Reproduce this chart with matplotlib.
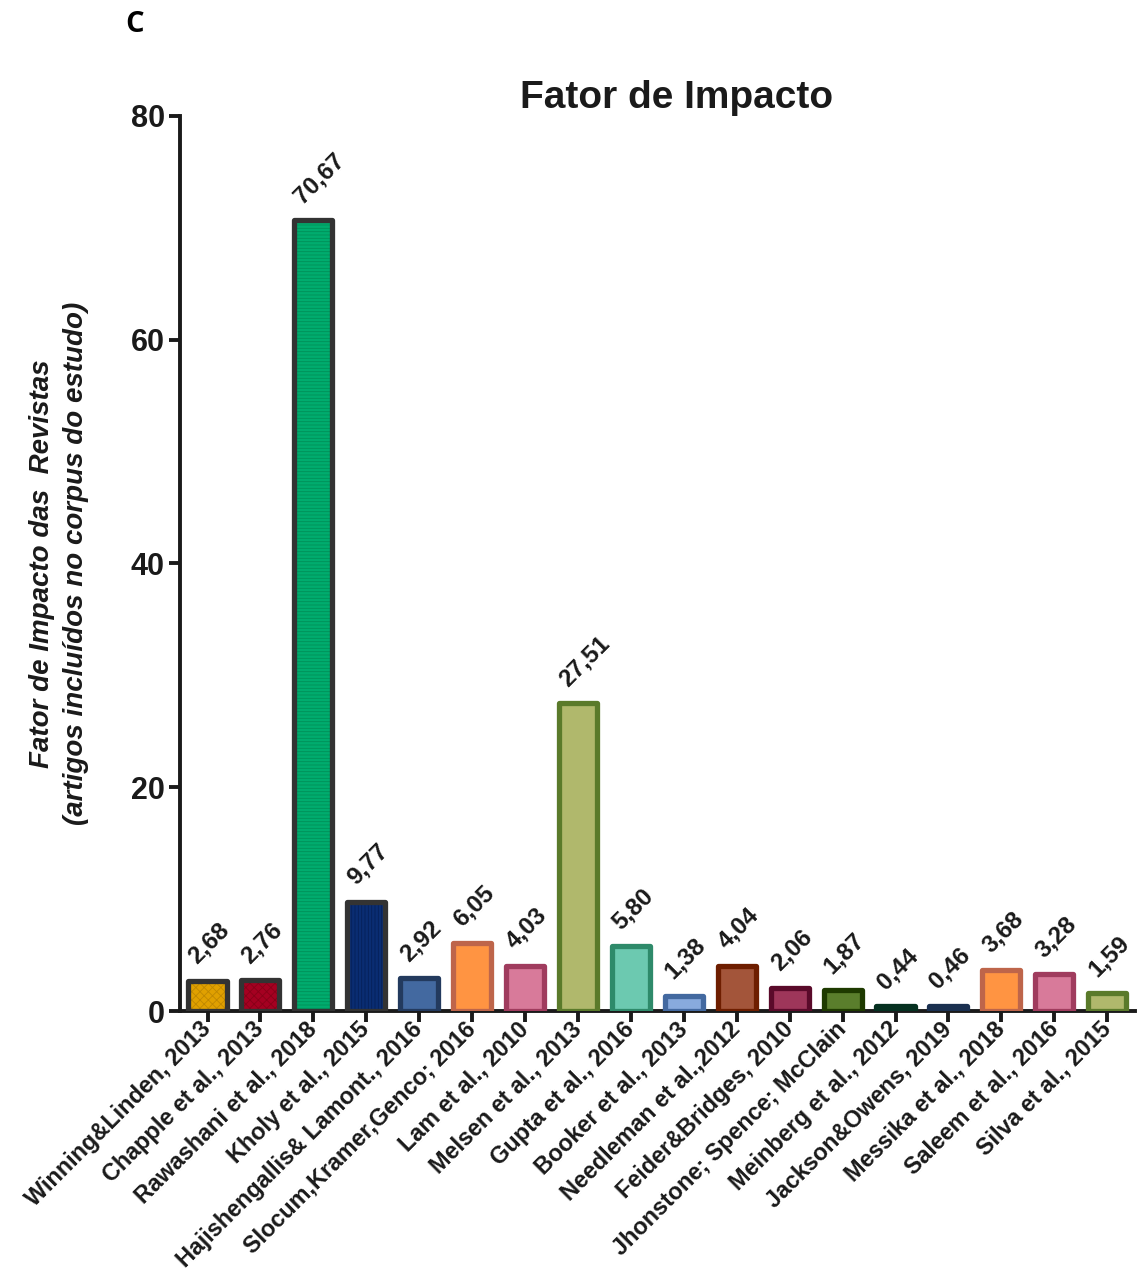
import matplotlib
matplotlib.use('Agg')
import matplotlib.pyplot as plt
import numpy as np

plt.rcParams['font.family'] = ['Liberation Sans', 'DejaVu Sans']
plt.rcParams['hatch.linewidth'] = 0.6

estudos = ['Winning&Linden, 2013', 'Chapple et al., 2013', 'Rawashani et al., 2018',
           'Kholy et al., 2015', 'Hajishengallis& Lamont., 2016', 'Slocum,Kramer,Genco; 2016',
           'Lam et al., 2010', 'Melsen et al., 2013', 'Gupta et al., 2016',
           'Booker et al., 2013', 'Needleman et al.,2012', 'Feider&Bridges, 2010',
           'Jhonstone; Spence; McClain', 'Meinberg et al., 2012', 'Jackson&Owens, 2019',
           'Messika et al., 2018', 'Saleem et al., 2016', 'Silva et al., 2015']
fator = [2.68, 2.76, 70.67, 9.77, 2.92, 6.05, 4.03, 27.51, 5.80,
         1.38, 4.04, 2.06, 1.87, 0.44, 0.46, 3.68, 3.28, 1.59]

cor_fill = ['#E0A000', '#A50021', '#00AC6E', '#0A2D72', '#4369A0', '#FF9442',
            '#D87A9A', '#B0B86C', '#6CC9B0', '#88AADD', '#A3553A', '#9E365A',
            '#5A7E2C', '#0A4636', '#2A4870', '#FF9442', '#D87A9A', '#B0B86C']
cor_borda = ['#333333', '#333333', '#333333', '#333333', '#233A5E', '#BE654A',
             '#A03C5E', '#5A7A2A', '#2E8A6A', '#4369A0', '#6E1E00', '#5A0A2A',
             '#1E3A00', '#053020', '#1A3050', '#BE654A', '#A03C5E', '#5A7A2A']
hachura = ['xxxx', 'xxxx', '-----', '|||||', '', '', '', '', '', '', '', '', '', '', '', '', '', '']
cor_hachura = ['#C08800', '#880018', '#009058', '#05205A'] + [None] * 14

fig = plt.figure(figsize=(11.37, 12.74), dpi=100)
ax = fig.add_axes([0.1583, 0.2064, 0.8397, 0.7026])

x = np.arange(len(estudos))
largura = 0.72
for i in range(len(estudos)):
    if hachura[i]:
        ax.bar(x[i], fator[i], width=largura, color=cor_fill[i], hatch=hachura[i],
               edgecolor=cor_hachura[i], linewidth=0, zorder=2)
    else:
        ax.bar(x[i], fator[i], width=largura, color=cor_fill[i], linewidth=0, zorder=2)
    ax.bar(x[i], fator[i], width=largura, fill=False, edgecolor=cor_borda[i],
           linewidth=3.8, joinstyle='round', zorder=3)
    ax.annotate(f'{fator[i]:.2f}'.replace('.', ','), (x[i], fator[i]),
                xytext=(-5, 9), textcoords='offset points', rotation=45,
                rotation_mode='anchor', ha='left', va='bottom',
                fontsize=17.5, fontweight='bold', color='#1a1a1a')

ax.set_xlim(-0.52, len(estudos) - 0.48)
ax.set_ylim(0, 80)
ax.set_yticks([0, 20, 40, 60, 80])
ax.set_xticks(x)
ax.set_xticklabels(estudos, rotation=45, ha='right', va='center', rotation_mode='anchor',
                   fontsize=16.8, fontweight='bold', color='#1a1a1a')
for lbl in ax.get_yticklabels():
    lbl.set_fontsize(22)
    lbl.set_fontweight('bold')
    lbl.set_color('#1a1a1a')

for s in ['top', 'right']:
    ax.spines[s].set_visible(False)
for s in ['left', 'bottom']:
    ax.spines[s].set_linewidth(2.8)
    ax.spines[s].set_color('#1a1a1a')
ax.tick_params(axis='both', width=2.8, length=8, color='#1a1a1a')
ax.tick_params(axis='x', pad=2.5)
ax.tick_params(axis='y', pad=3)

ax.set_ylabel('Fator de Impacto das  Revistas\n(artigos incluídos no corpus do estudo)',
              fontsize=20, fontweight='bold', style='italic', labelpad=30,
              linespacing=1.4, color='#1a1a1a')
ax.set_title('Fator de Impacto', fontsize=28, fontweight='bold', pad=2, x=0.52, color='#1a1a1a')

fig.text(135 / 1137, 1 - 25 / 1274, 'C', fontsize=21, fontweight='bold',
         family='Open Sans', ha='center', va='center')

fig.savefig('out.png', dpi=100)
